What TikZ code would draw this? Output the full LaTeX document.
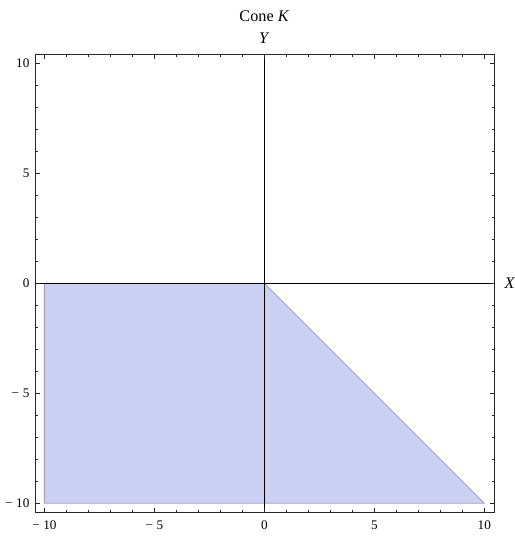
\documentclass[tikz,border=0pt]{standalone}
\usepackage{fontspec}
\setmainfont{Liberation Serif}
\usepackage{xcolor}
\definecolor{conefill}{RGB}{204,209,244}
\definecolor{coneedge}{RGB}{158,160,190}

\begin{document}
\begin{tikzpicture}[x=0.5cm,y=0.5cm,
  every node/.style={font=\fontsize{8.5}{10}\selectfont},
  frameline/.style={line width=0.6pt,black!85},
  axisline/.style={line width=0.6pt,black},
  cone/.style={fill=conefill,draw=coneedge,line width=0.6pt},
  ticklab/.style={inner sep=1pt},
  biglab/.style={font=\fontsize{10.5}{12}\selectfont,inner sep=1pt}
]
\useasboundingbox (-12.02,-11.49) rectangle (11.39,12.88);
% region K
\path[cone] (-10,0) -- (0,0) -- (10,-10) -- (-10,-10) -- cycle;
% axes through the origin
\draw[axisline] (-10.43,0) -- (10.48,0);
\draw[axisline] (0,-10.42) -- (0,10.42);
% frame and ticks
\draw[frameline] (-10.43,-10.42) rectangle (10.48,10.42);
\foreach \t in {-10,...,10}{
  \pgfmathsetmacro{\len}{ifthenelse(mod(\t,5)==0,0.22,0.12)}
  \draw[frameline] (\t,-10.42) -- ++(0,\len);
  \draw[frameline] (\t,10.42) -- ++(0,-\len);
  \draw[frameline] (-10.43,\t) -- ++(\len,0);
  \draw[frameline] (10.48,\t) -- ++(-\len,0);
}
\foreach \t/\s in {-10/{−\;10},-5/{−\;5},0/0,5/5,10/10}{
  \node[ticklab] (bx\t) at (\t,-10.98) {\s};
  \node[ticklab,anchor=east] (ly\t) at (-10.6,\t) {\s};
}
% labels
\node[biglab] (xlab) at (11.16,0) {\textit{X}};
\node[biglab] (ylab) at (0,11.15) {\textit{Y}};
\node[biglab] (title) at (0,12.15) {Cone \textit{K}};
\end{tikzpicture}
\end{document}
